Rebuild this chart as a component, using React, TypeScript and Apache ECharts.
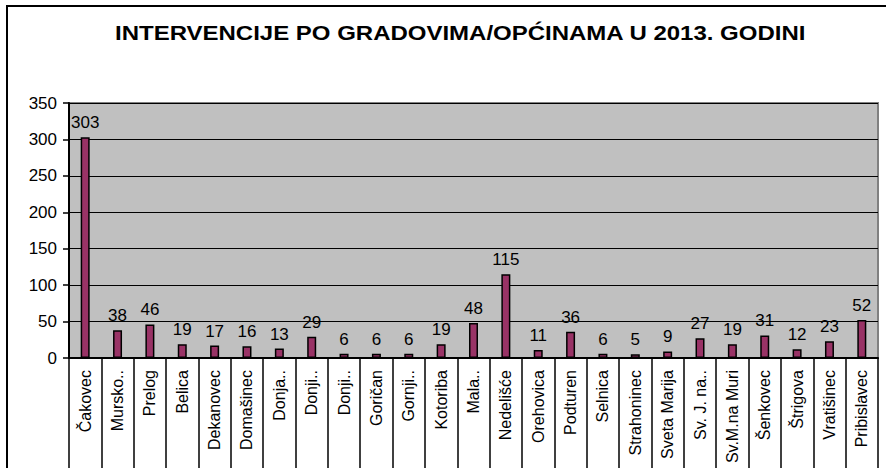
import React, { useEffect, useRef } from "react";
import * as echarts from "echarts";

const categories = [
  "Čakovec", "Mursko..", "Prelog", "Belica", "Dekanovec", "Domašinec", "Donja..", "Donji..", "Donji..",
  "Goričan", "Gornji..", "Kotoriba", "Mala..", "Nedelišće", "Orehovica", "Podturen", "Selnica",
  "Strahoninec", "Sveta Marija", "Sv. J. na..", "Sv.M.na Muri", "Šenkovec", "Štrigova", "Vratišinec", "Pribislavec",
];
const values = [303, 38, 46, 19, 17, 16, 13, 29, 6, 6, 6, 19, 48, 115, 11, 36, 6, 5, 9, 27, 19, 31, 12, 23, 52];
const titleText = "INTERVENCIJE PO GRADOVIMA/OPĆINAMA U 2013. GODINI";

export default function App() {
  const ref = useRef<HTMLDivElement>(null);
  useEffect(() => {
    document.body.style.margin = "0";
    const chart = echarts.init(ref.current!, null, { renderer: "svg" });
    const font = "Arial, 'Liberation Sans', sans-serif";
    chart.setOption({
      animation: false,
      backgroundColor: "#ffffff",
      graphic: [
        {
          type: "rect",
          shape: { x: 7, y: 6, width: 900, height: 500 },
          style: { fill: "none", stroke: "#000", lineWidth: 2 },
          silent: true,
          z: 100,
        },
        {
          type: "text",
          x: 115,
          y: 33,
          scaleX: 1.2,
          style: {
            text: titleText,
            x: 0,
            y: 0,
            fontSize: 20,
            fontWeight: "bold",
            fontFamily: font,
            fill: "#000",
            textAlign: "left",
            textVerticalAlign: "middle",
          },
          silent: true,
        },
      ],
      grid: {
        left: 69,
        right: 8,
        top: 103,
        bottom: 110,
        outerBoundsMode: "none",
        containLabel: false,
        show: true,
        backgroundColor: "#C0C0C0",
        borderColor: "#808080",
        borderWidth: 2,
      },
      xAxis: {
        type: "category",
        data: categories,
        axisLine: { lineStyle: { color: "#000", width: 2 } },
        axisTick: { show: true, length: 112, lineStyle: { color: "#000", width: 1.5 } },
        axisLabel: {
          rotate: 90,
          interval: 0,
          margin: 12,
          fontSize: 16,
          color: "#000",
          fontFamily: font,
        },
      },
      yAxis: {
        type: "value",
        min: 0,
        max: 350,
        interval: 50,
        axisLine: { show: true, lineStyle: { color: "#000", width: 2 } },
        axisTick: { show: true, length: 6, lineStyle: { color: "#000", width: 1.5 } },
        splitLine: { lineStyle: { color: "#000", width: 1 } },
        axisLabel: { fontSize: 17, color: "#000", fontFamily: font, margin: 12 },
      },
      series: [
        {
          type: "bar",
          data: values,
          barWidth: 9,
          itemStyle: { color: "#993366", borderColor: "#000", borderWidth: 1.5 },
          label: {
            show: true,
            position: "top",
            distance: 6,
            fontSize: 17,
            color: "#000",
            fontFamily: font,
          },
        },
      ],
    });
    return () => chart.dispose();
  }, []);
  return <div ref={ref} style={{ width: 886, height: 468 }} />;
}
